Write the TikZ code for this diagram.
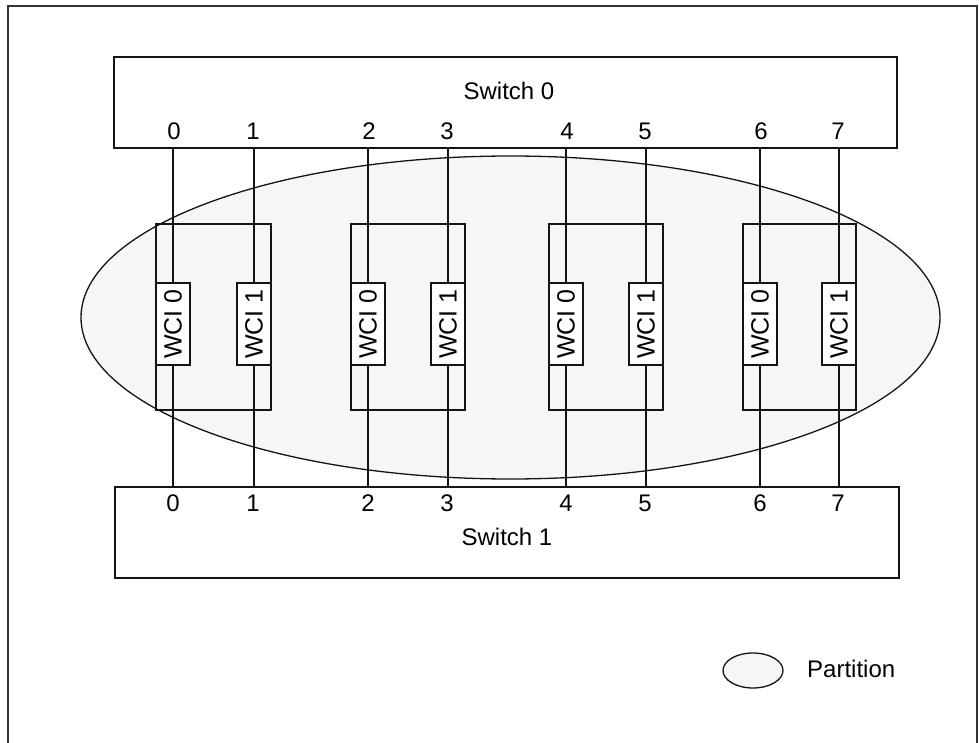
\documentclass[tikz,border=0pt]{standalone}
\usepackage{fontspec}
\setmainfont{Liberation Sans}
\definecolor{partfill}{RGB}{246,246,246}
\definecolor{ink}{RGB}{20,20,20}
\begin{document}
\begin{tikzpicture}[x=1pt,y=-1pt,
  box/.style={draw=ink, line width=1.3pt, inner sep=0pt, outer sep=0pt},
  lbl/.style={font=\fontsize{24}{28}\selectfont, inner sep=0pt},
  wci/.style={draw=ink, line width=1.3pt, fill=white, minimum width=34pt, minimum height=82pt, inner sep=0pt, outer sep=0pt, font=\fontsize{25}{29}\selectfont},
  wire/.style={draw=ink, line width=1.3pt},
  part/.style={draw=ink, line width=1.3pt, fill=partfill}]
\useasboundingbox (0,0) rectangle (980,743);
% outer frame
\draw[line width=2pt, draw=black!80] (8,760) -- (8,6) -- (977,6) -- (977,760);
% partition ellipse
\draw[part] (510.5,317.5) ellipse [x radius=429.5, y radius=161.5];
% switches
\node[box, minimum width=783pt, minimum height=91pt] (sw0) at (505.5,102.5) {};
\node[box, minimum width=784pt, minimum height=91pt] (sw1) at (507,532.5) {};
\node[lbl] (sw0t) at (509,91) {Switch 0};
\node[lbl] (sw1t) at (507,537) {Switch 1};
% ports, groups, WCIs
\foreach \i/\xa/\xb in {0/173/254, 1/368/448, 2/566/646, 3/760/839}{
  \pgfmathtruncatemacro{\pa}{2*\i}
  \pgfmathtruncatemacro{\pb}{2*\i+1}
  \pgfmathsetmacro{\gw}{\xb-\xa+34}
  \pgfmathsetmacro{\gx}{(\xa+\xb)/2}
  \node[box, minimum width=\gw pt, minimum height=186pt] (g\i) at (\gx,317) {};
  \node[wci] (wa\i) at (\xa,324) {\rotatebox{90}{WCI 0}};
  \node[wci] (wb\i) at (\xb,324) {\rotatebox{90}{WCI 1}};
  \node[lbl] (pt\pa) at (\xa+1,131.5) {\pa};
  \node[lbl] (pt\pb) at (\xb-1,131.5) {\pb};
  \node[lbl] (pb\pa) at (\xa,503.5) {\pa};
  \node[lbl] (pb\pb) at (\xb-1,503.5) {\pb};
  \draw[wire] (sw0.south -| wa\i) -- (wa\i.north);
  \draw[wire] (wa\i.south) -- (wa\i.south |- sw1.north);
  \draw[wire] (sw0.south -| wb\i) -- (wb\i.north);
  \draw[wire] (wb\i.south) -- (wb\i.south |- sw1.north);
}
% legend
\draw[part] (753,670.5) ellipse [x radius=30, y radius=17.5];
\node[lbl, anchor=west] (legt) at (807,669) {Partition};
\end{tikzpicture}
\end{document}
